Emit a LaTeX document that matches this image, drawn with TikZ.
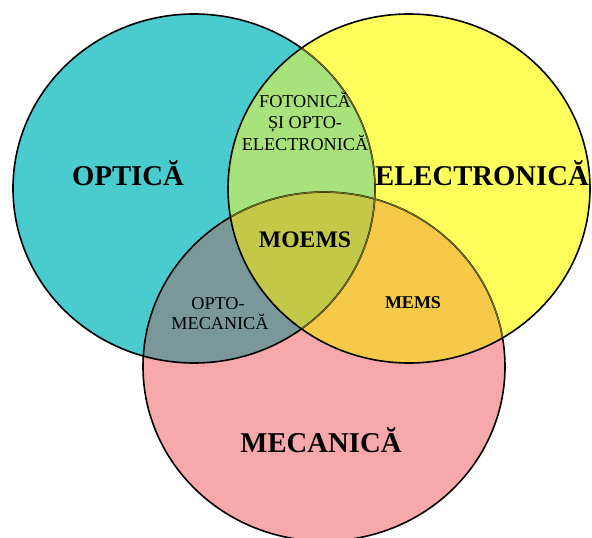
\documentclass[tikz,border=0pt]{standalone}
\usepackage{fontspec}
\setmainfont{Liberation Serif}

% Fill colours of the single fields and of their intersections
\definecolor{optcol}{RGB}{74,204,206}
\definecolor{elecol}{RGB}{255,255,92}
\definecolor{meccol}{RGB}{246,168,170}
\definecolor{oecol}{RGB}{168,226,122}
\definecolor{omcol}{RGB}{122,152,152}
\definecolor{emcol}{RGB}{246,202,72}
\definecolor{allcol}{RGB}{196,200,72}
\definecolor{dimline}{RGB}{110,108,30}

\tikzset{
  edge/.style={draw=black, line width=1.6pt},
  dimedge/.style={draw=dimline, line width=1.2pt},
  bigtitle/.style={font=\fontsize{28.7}{30}\selectfont\bfseries, inner sep=0pt, anchor=base},
  midtitle/.style={font=\fontsize{23.7}{26}\selectfont\bfseries, inner sep=0pt, anchor=base},
  smalltitle/.style={font=\fontsize{18}{20}\selectfont\bfseries, inner sep=0pt, anchor=base},
  smalltext/.style={font=\fontsize{18.2}{20}\selectfont, inner sep=0pt, anchor=base},
}

\def\optshape{(194,188.5) ellipse [x radius=181pt, y radius=174.5pt]}
\def\eleshape{(409,188.5) ellipse [x radius=181pt, y radius=174.5pt]}
\def\mecshape{(324,366.5) ellipse [x radius=181pt, y radius=174.5pt]}

\begin{document}
\begin{tikzpicture}[x=1pt,y=-1pt]
\useasboundingbox (0,0) rectangle (592,538);
\clip (0,0) rectangle (592,538);

% single fields
\fill[optcol] \optshape;
\fill[meccol] \mecshape;
\fill[elecol] \eleshape;

% electronics and mechanics
\begin{scope}
  \clip \eleshape;
  \fill[emcol] \mecshape;
\end{scope}

% optics with the other two fields
\begin{scope}
  \clip \optshape;
  \fill[oecol] \eleshape;
  \fill[omcol] \mecshape;
  \clip \eleshape;
  \fill[allcol] \mecshape;
\end{scope}

% outlines; the parts lying under the yellow field are dimmed
\draw[edge] \optshape;
\draw[edge] \mecshape;
\begin{scope}
  \clip \eleshape;
  \draw[dimedge] \optshape;
  \draw[dimedge] \mecshape;
\end{scope}
\draw[edge] \eleshape;

% labels
\node[bigtitle] (optica) at (128,185) {OPTICĂ};
\node[bigtitle] (electronica) at (482,185) {ELECTRONICĂ};
\node[bigtitle] (mecanica) at (321,452) {MECANICĂ};
\node[midtitle] (moems) at (305,247) {MOEMS};
\node[smalltitle] (mems) at (413,308) {MEMS};

\node[smalltext] (foto1) at (305,107) {FOTONICĂ};
\node[smalltext] (foto2) at (305,128.5) {ȘI OPTO-};
\node[smalltext] (foto3) at (305,150) {ELECTRONICĂ};

\node[smalltext] (optomec1) at (218,309) {OPTO-};
\node[smalltext] (optomec2) at (220,329.5) {MECANICĂ};
\end{tikzpicture}
\end{document}
